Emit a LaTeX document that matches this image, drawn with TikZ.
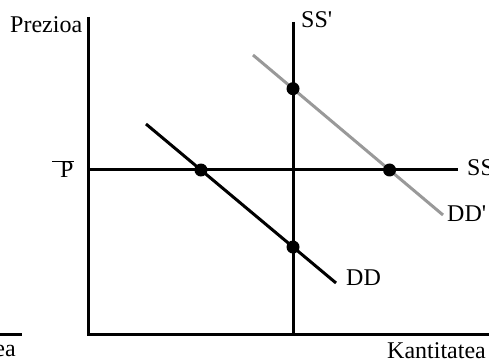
\documentclass[tikz,border=0pt]{standalone}
\usepackage{fontspec}
\setmainfont{Liberation Serif}
\usetikzlibrary{positioning}

\begin{document}
\begin{tikzpicture}[x=1pt,y=-1pt,font=\fontsize{24}{28}\selectfont,
 axis/.style={line width=3pt},
 curve/.style={line width=3pt},
 dot/.style={circle,fill=black,inner sep=0pt,minimum size=13pt},
 lbl/.style={inner sep=0pt,anchor=base west}]
\useasboundingbox (0,0) rectangle (489,363);
% axes
\coordinate (ytop) at (88,17);
\coordinate (orig) at (88,334);
\coordinate (xend) at (489,334);
\draw[axis] (ytop)--(orig)--(xend);
\coordinate (lfa) at (0,334);
\coordinate (lfb) at (22,334);
\draw[axis] (lfa)--(lfb);
% supply lines
\coordinate (ssl) at (88,170);
\coordinate (ssr) at (458,170);
\coordinate (sst) at (293,22);
\coordinate (ssb) at (293,334);
\draw[axis] (ssl)--(ssr);
\draw[axis] (sst)--(ssb);
% demand lines
\coordinate (dda) at (146,124);
\coordinate (ddb) at (336,283);
\coordinate (dpa) at (253,55);
\coordinate (dpb) at (443,215);
\draw[curve,black!40] (dpa)--(dpb);
\draw[curve] (dda)--(ddb);
% equilibrium points
\node[dot] (e1) at (intersection of dda--ddb and ssl--ssr) {};
\node[dot] (e2) at (intersection of dda--ddb and sst--ssb) {};
\node[dot] (e3) at (intersection of dpa--dpb and ssl--ssr) {};
\node[dot] (e4) at (intersection of dpa--dpb and sst--ssb) {};
% labels
\node[lbl] (price) at (10,33) {Prezioa};
\node[lbl] (pbar) at (52,178) {$\overline{\hbox{\kern8pt P}}$};
\node[lbl] (sslbl) at (301,28) {SS\textquotesingle};
\node[lbl] (sslb2) at (467,176) {SS};
\node[lbl] (ddplbl) at (447,221) {DD\textquotesingle};
\node[lbl] (ddlbl) at (346,285) {DD};
\node[lbl] (qty) at (387,358) {Kantitatea};
\node[inner sep=0pt,anchor=base east] (qtyl) at (16,356) {ea};
\end{tikzpicture}
\end{document}
